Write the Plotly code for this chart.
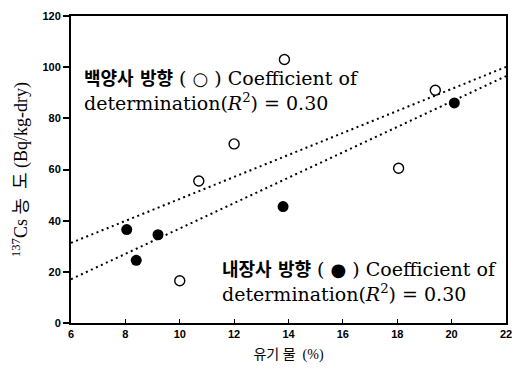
import plotly.graph_objects as go

# 백양사 방향 (hollow markers)
baekyang_om = [10.0, 10.7, 12.0, 13.85, 18.05, 19.4]
baekyang_cs = [16.5, 55.5, 70.0, 103.0, 60.5, 91.0]

# 내장사 방향 (filled markers)
naejang_om = [8.05, 8.4, 9.2, 13.8, 20.1]
naejang_cs = [36.5, 24.5, 34.5, 45.5, 86.0]

# regression lines across the x range
trend_x = [6, 22]
baekyang_trend = [31.3, 100.1]
naejang_trend = [17.1, 96.5]

x_ticks = [6, 8, 10, 12, 14, 16, 18, 20, 22]
y_ticks = [0, 20, 40, 60, 80, 100, 120]

SERIF = "DejaVu Serif, Noto Sans CJK KR, serif"
TITLE_SERIF = "Liberation Serif, Noto Sans CJK KR, serif"
TICKFONT = dict(family="Liberation Sans, Arial, sans-serif", size=11, color="black", weight="bold")

fig = go.Figure()

dotted = dict(color="black", width=2, dash="2px,3.5px")
fig.add_trace(go.Scatter(x=trend_x, y=baekyang_trend, mode="lines", line=dotted,
                         hoverinfo="skip", showlegend=False))
fig.add_trace(go.Scatter(x=trend_x, y=naejang_trend, mode="lines", line=dotted,
                         hoverinfo="skip", showlegend=False))

fig.add_trace(go.Scatter(
    x=baekyang_om, y=baekyang_cs, mode="markers", name="백양사 방향",
    marker=dict(symbol="circle-open", size=10, color="black", line=dict(width=1.4, color="black")),
    showlegend=False))
fig.add_trace(go.Scatter(
    x=naejang_om, y=naejang_cs, mode="markers", name="내장사 방향",
    marker=dict(symbol="circle", size=11, color="black"),
    showlegend=False))


def label(site, sym):
    kor = '<span style="font-size:18px"><b>{}</b></span>'.format(site)
    mark = '<span style="font-size:18px">{}</span>'.format(sym)
    return (kor + " ( " + mark + " ) Coefficient of<br>"
            "determination(<i>R</i><sup>2</sup>) = 0.30")


fig.add_annotation(
    x=0.025, y=0.84, xref="paper", yref="paper", xanchor="left", yanchor="top",
    align="left", showarrow=False, text=label("백양사 방향", "○"),
    font=dict(family=SERIF, size=19, color="black"))
fig.add_annotation(
    x=0.343, y=0.218, xref="paper", yref="paper", xanchor="left", yanchor="top",
    align="left", showarrow=False, text=label("내장사 방향", "●"),
    font=dict(family=SERIF, size=19, color="black"))

fig.update_layout(
    width=520, height=372,
    margin=dict(l=71, r=8, t=16, b=49),
    paper_bgcolor="white", plot_bgcolor="white",
    xaxis=dict(
        range=[6, 22], tickvals=x_ticks, ticktext=[str(v) for v in x_ticks],
        showgrid=False, zeroline=False,
        showline=True, linecolor="black", linewidth=1.5, mirror=True,
        ticks="inside", ticklen=4, tickcolor="black", tickwidth=1,
        tickfont=TICKFONT,
        title=dict(text="유기 물  (%)", font=dict(family=TITLE_SERIF, size=14, color="black"), standoff=10),
    ),
    yaxis=dict(
        range=[0, 120], tickvals=y_ticks, ticktext=[str(v) for v in y_ticks],
        showgrid=False, zeroline=False,
        showline=True, linecolor="black", linewidth=2, mirror=True,
        ticks="outside", ticklen=6, tickcolor="black", tickwidth=1.5,
        tickfont=TICKFONT,
        title=dict(text="<sup>137</sup>Cs 농  도 (Bq/kg-dry)",
                   font=dict(family=TITLE_SERIF, size=18, color="black"), standoff=10),
    ),
)

fig.write_html("out.html")
